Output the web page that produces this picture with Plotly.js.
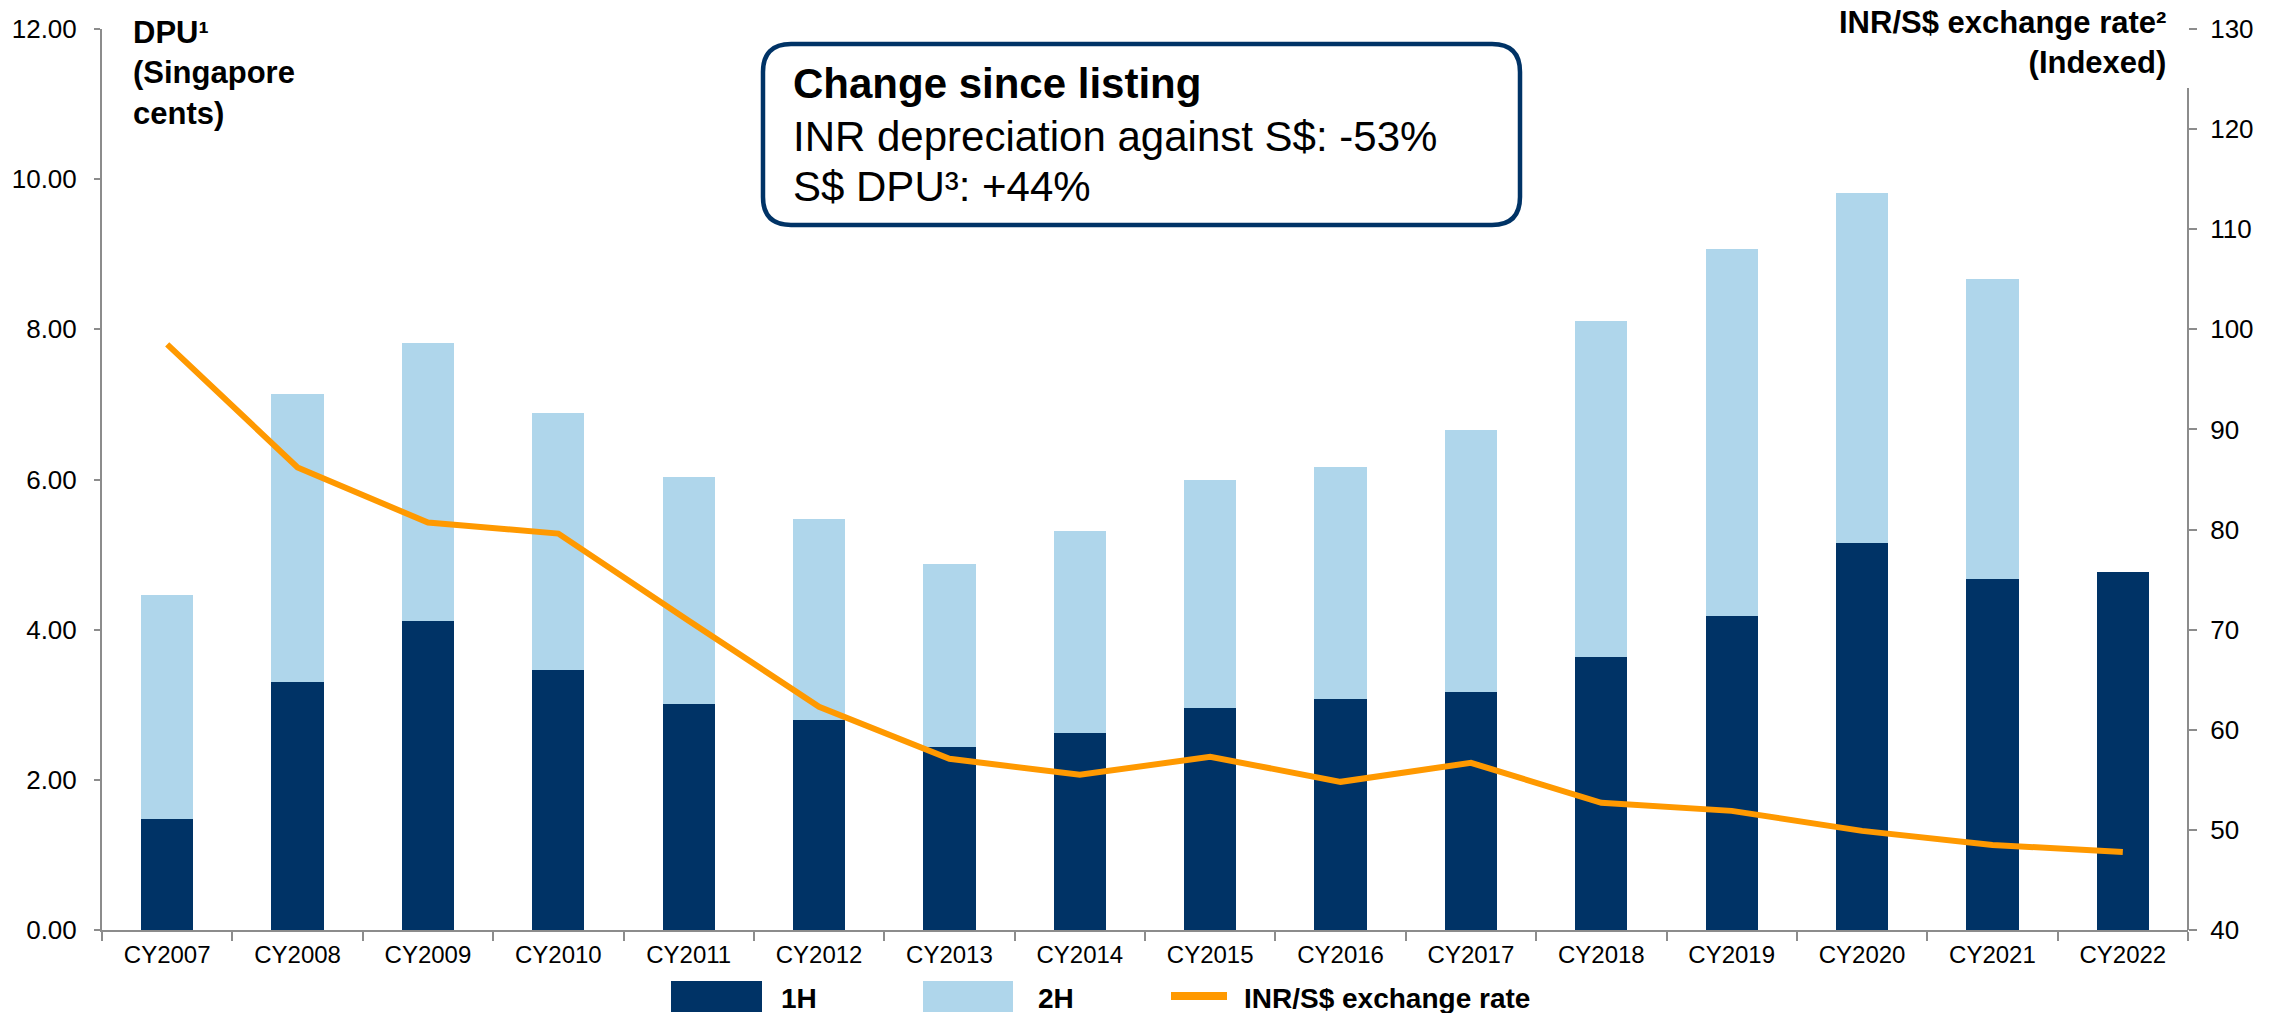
<!DOCTYPE html>
<html>
<head>
<meta charset="utf-8">
<script src="https://cdn.plot.ly/plotly-3.0.1.min.js"></script>
<style>html,body{margin:0;padding:0;background:#ffffff;}</style>
</head>
<body>
<div id="chart" style="width:2290px;height:1013px;"></div>
<script>
// ---- data ----
const categories = ['CY2007','CY2008','CY2009','CY2010','CY2011','CY2012','CY2013','CY2014','CY2015','CY2016','CY2017','CY2018','CY2019','CY2020','CY2021','CY2022'];
const dpu1H = [1.48, 3.30, 4.12, 3.46, 3.01, 2.80, 2.44, 2.63, 2.96, 3.07, 3.17, 3.63, 4.18, 5.16, 4.67, 4.77];
const dpu2H = [2.98, 3.84, 3.70, 3.42, 3.03, 2.68, 2.43, 2.69, 3.04, 3.10, 3.49, 4.48, 4.89, 4.66, 4.00, null];
const inrSgdIndexed = [98.5, 86.2, 80.7, 79.6, 70.9, 62.3, 57.1, 55.5, 57.3, 54.8, 56.7, 52.7, 51.9, 49.9, 48.5, 47.8];
const leftTicks = [0, 2, 4, 6, 8, 10, 12];
const rightTicks = [40, 50, 60, 70, 80, 90, 100, 110, 120, 130];
const seriesNames = ['1H', '2H', 'INR/S$ exchange rate'];
const leftTitle = '<b>DPU¹<br>(Singapore<br>cents)</b>';
const rightTitle = '<b>INR/S$ exchange rate²<br>(Indexed)</b>';
const boxLines = ['<b>Change since listing</b>', 'INR depreciation against S$: -53%', 'S$ DPU³: +44%'];

// ---- styling ----
const NAVY = '#003366', LIGHT = '#AFD6EB', ORANGE = '#FF9900', GREY = '#8C8C8C';
const FONT = 'Liberation Sans, Arial, sans-serif';

// plot-area pixel frame -> paper coords helpers
const L = 102, R = 2188, T = 29, B = 930;
const px = x => (x - L) / (R - L);
const py = y => (B - y) / (B - T);
const pt = (x, y) => px(x).toFixed(5) + ',' + py(y).toFixed(5);

function roundRect(x0, y0, x1, y1, r) {
  return 'M' + pt(x0 + r, y0) + ' L' + pt(x1 - r, y0) + ' Q' + pt(x1, y0) + ' ' + pt(x1, y0 + r) +
    ' L' + pt(x1, y1 - r) + ' Q' + pt(x1, y1) + ' ' + pt(x1 - r, y1) +
    ' L' + pt(x0 + r, y1) + ' Q' + pt(x0, y1) + ' ' + pt(x0, y1 - r) +
    ' L' + pt(x0, y0 + r) + ' Q' + pt(x0, y0) + ' ' + pt(x0 + r, y0) + ' Z';
}

const traces = [
  { type: 'bar', x: categories, y: dpu1H, name: seriesNames[0], marker: { color: NAVY }, showlegend: false, hoverinfo: 'skip' },
  { type: 'bar', x: categories, y: dpu2H, name: seriesNames[1], marker: { color: LIGHT }, showlegend: false, hoverinfo: 'skip' },
  { type: 'scatter', mode: 'lines', x: categories, y: inrSgdIndexed, yaxis: 'y2', name: seriesNames[2],
    line: { color: ORANGE, width: 6 }, showlegend: false, hoverinfo: 'skip' }
];

const tickFont = { family: FONT, size: 26, color: '#000000' };

const shapes = [
  // right axis line (starts below the title)
  { type: 'line', xref: 'paper', yref: 'paper', x0: 1, x1: 1, y0: 0, y1: py(88), line: { color: GREY, width: 2 } },
  // rounded call-out box
  { type: 'path', xref: 'paper', yref: 'paper', path: roundRect(763, 44, 1520, 225, 28),
    line: { color: NAVY, width: 4.5 }, fillcolor: 'rgba(255,255,255,0)' },
  // legend swatches
  { type: 'rect', xref: 'paper', yref: 'paper', x0: px(671), x1: px(762), y0: py(1012), y1: py(981), fillcolor: NAVY, line: { width: 0 } },
  { type: 'rect', xref: 'paper', yref: 'paper', x0: px(923), x1: px(1013), y0: py(1012), y1: py(981), fillcolor: LIGHT, line: { width: 0 } },
  { type: 'line', xref: 'paper', yref: 'paper', x0: px(1171), x1: px(1227), y0: py(996), y1: py(996), line: { color: ORANGE, width: 8 } }
];

const annotations = [
  { xref: 'paper', yref: 'paper', x: px(131), y: py(13), xanchor: 'left', yanchor: 'top', align: 'left',
    text: leftTitle, showarrow: false, font: { family: FONT, size: 31, color: '#000' } },
  { xref: 'paper', yref: 'paper', x: px(2168), y: py(3), xanchor: 'right', yanchor: 'top', align: 'right',
    text: rightTitle, showarrow: false, font: { family: FONT, size: 31, color: '#000' } },
  { xref: 'paper', yref: 'paper', x: px(791), y: py(58), xanchor: 'left', yanchor: 'top', align: 'left',
    text: boxLines[0], showarrow: false, font: { family: FONT, size: 42, color: '#000' } },
  { xref: 'paper', yref: 'paper', x: px(791), y: py(111), xanchor: 'left', yanchor: 'top', align: 'left',
    text: boxLines[1], showarrow: false, font: { family: FONT, size: 42, color: '#000' } },
  { xref: 'paper', yref: 'paper', x: px(791), y: py(161), xanchor: 'left', yanchor: 'top', align: 'left',
    text: boxLines[2], showarrow: false, font: { family: FONT, size: 42, color: '#000' } },
  // legend labels
  { xref: 'paper', yref: 'paper', x: px(779), y: py(998), xanchor: 'left', yanchor: 'middle',
    text: '<b>' + seriesNames[0] + '</b>', showarrow: false, font: { family: FONT, size: 28, color: '#000' } },
  { xref: 'paper', yref: 'paper', x: px(1036), y: py(998), xanchor: 'left', yanchor: 'middle',
    text: '<b>' + seriesNames[1] + '</b>', showarrow: false, font: { family: FONT, size: 28, color: '#000' } },
  { xref: 'paper', yref: 'paper', x: px(1242), y: py(998), xanchor: 'left', yanchor: 'middle',
    text: '<b>' + seriesNames[2] + '</b>', showarrow: false, font: { family: FONT, size: 28, color: '#000' } }
];

const layout = {
  width: 2290, height: 1013,
  margin: { l: L, r: 2290 - R, t: T, b: 1013 - B, autoexpand: false },
  paper_bgcolor: '#ffffff', plot_bgcolor: '#ffffff',
  font: { family: FONT, color: '#000' },
  barmode: 'stack', bargap: 0.6,
  showlegend: false,
  xaxis: {
    type: 'category', range: [-0.5, categories.length - 0.5],
    showline: true, linecolor: GREY, linewidth: 2,
    ticks: 'outside', tickson: 'boundaries', ticklen: 9, tickwidth: 2, tickcolor: GREY,
    showgrid: false, zeroline: false, tickfont: { family: FONT, size: 24, color: '#000' },
    ticklabelstandoff: 2
  },
  yaxis: {
    range: [0, 12], tickvals: leftTicks, tickformat: '.2f',
    showline: true, linecolor: GREY, linewidth: 2,
    ticks: 'outside', ticklen: 6, tickwidth: 2, tickcolor: GREY,
    showgrid: false, zeroline: false, tickfont: tickFont, ticklabelstandoff: 12
  },
  yaxis2: {
    overlaying: 'y', side: 'right', range: [40, 130], tickvals: rightTicks,
    showline: false,
    ticks: 'outside', ticklen: 8, tickwidth: 2, tickcolor: GREY,
    showgrid: false, zeroline: false, tickfont: tickFont, ticklabelstandoff: 8
  },
  shapes: shapes,
  annotations: annotations
};

Plotly.newPlot('chart', traces, layout, { displayModeBar: false, staticPlot: true });
</script>
</body>
</html>
